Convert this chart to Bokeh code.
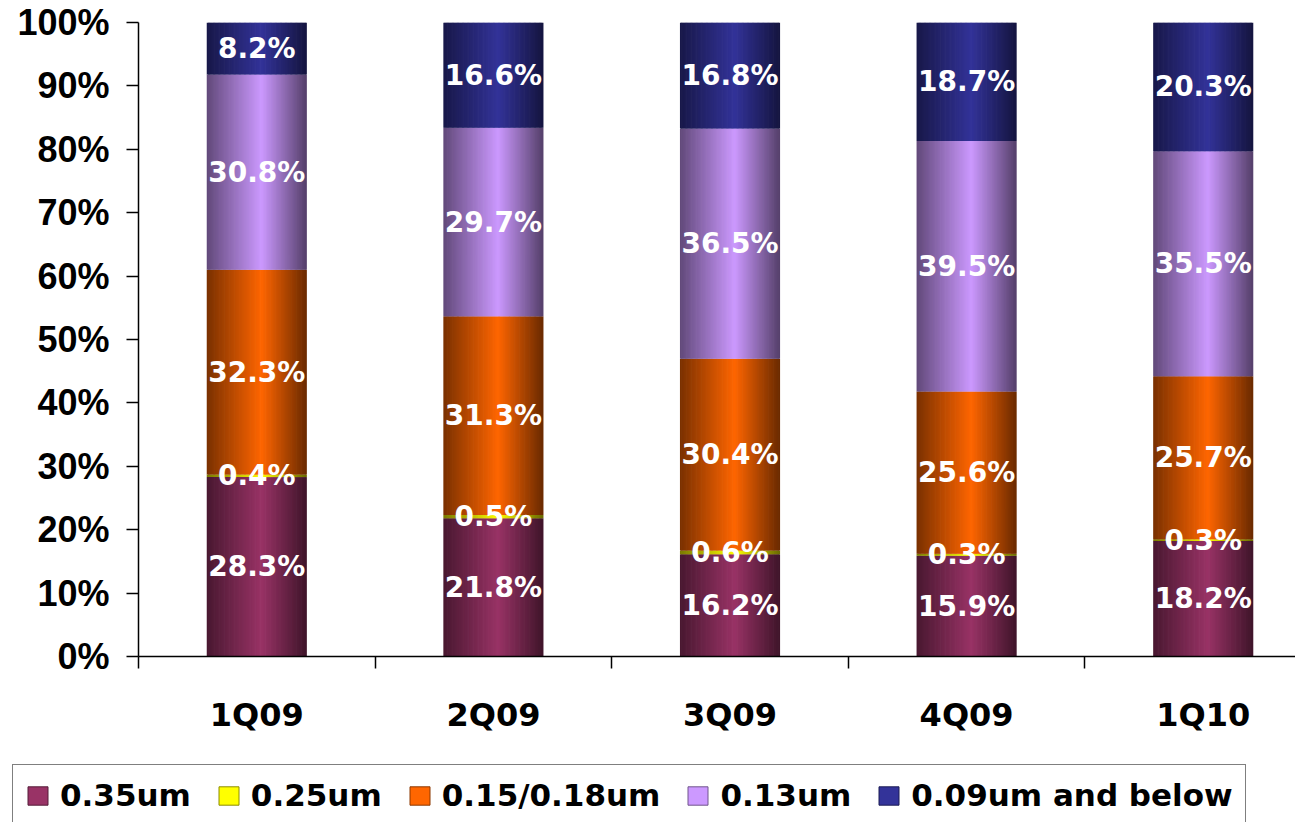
import numpy as np
from bokeh.plotting import figure
from bokeh.layouts import column
from bokeh.models import ColumnDataSource, Range1d, FixedTicker, Legend, LegendItem
from bokeh.core.properties import value
from bokeh.embed import file_html
from bokeh.resources import INLINE

# ---- data ----
categories = ["1Q09", "2Q09", "3Q09", "4Q09", "1Q10"]
series_names = ["0.35um", "0.25um", "0.15/0.18um", "0.13um", "0.09um and below"]
s_035 = [28.3, 21.8, 16.2, 15.9, 18.2]
s_025 = [0.4, 0.5, 0.6, 0.3, 0.3]
s_015 = [32.3, 31.3, 30.4, 25.6, 25.7]
s_013 = [30.8, 29.7, 36.5, 39.5, 35.5]
s_009 = [8.2, 16.6, 16.8, 18.7, 20.3]
series_colors = ["#993366", "#FFFF00", "#FF6600", "#CC99FF", "#333399"]
y_ticks = [0, 10, 20, 30, 40, 50, 60, 70, 80, 90, 100]
y_tick_labels = ["0%", "10%", "20%", "30%", "40%", "50%", "60%", "70%", "80%", "90%", "100%"]

series_values = [s_035, s_025, s_015, s_013, s_009]

# ---- styling helpers ----
N_STRIPS = 80
BAR_W = 0.42
PEAK = 0.55


def shade(hex_color, f):
    h = hex_color.lstrip("#")
    r, g, b = (int(h[i:i + 2], 16) for i in (0, 2, 4))
    return "#%02x%02x%02x" % (int(min(255, r * f)), int(min(255, g * f)), int(min(255, b * f)))


def grad_factor(t):
    if t < PEAK:
        d = (PEAK - t) / PEAK
        edge = 0.48
    else:
        d = (t - PEAK) / (1 - PEAK)
        edge = 0.42
    return 1 - (1 - edge) * d


n_cat = len(categories)
arr = np.array(series_values, dtype=float)
totals = arr.sum(axis=0)
pct = arr / totals * 100.0
cum_top = np.cumsum(pct, axis=0)
cum_bot = cum_top - pct
centers = np.arange(n_cat) + 0.5

p = figure(width=1295, height=760,
           x_range=Range1d(0, n_cat - 0.11), y_range=Range1d(0, 100),
           output_backend="svg", toolbar_location=None,
           min_border_left=138, min_border_top=22, min_border_right=0, min_border_bottom=104)
p.xgrid.visible = False
p.ygrid.visible = False
p.outline_line_color = None
p.background_fill_color = "white"
p.border_fill_color = "white"

for s, name in enumerate(series_names):
    xs, ws, bots, tops, cols = [], [], [], [], []
    for i in range(n_cat):
        for k in range(N_STRIPS):
            t = (k + 0.5) / N_STRIPS
            xs.append(centers[i] - BAR_W / 2 + t * BAR_W)
            ws.append(BAR_W / N_STRIPS * 1.6)
            bots.append(cum_bot[s, i])
            tops.append(cum_top[s, i])
            cols.append(shade(series_colors[s], grad_factor(t)))
    src = ColumnDataSource(dict(x=xs, w=ws, bottom=bots, top=tops, color=cols))
    p.vbar(x="x", width="w", bottom="bottom", top="top", source=src,
           fill_color="color", line_color=None)

# data labels
lx, ly, lt = [], [], []
for s in range(len(series_names)):
    for i in range(n_cat):
        lx.append(centers[i])
        ly.append((cum_bot[s, i] + cum_top[s, i]) / 2)
        lt.append(f"{series_values[s][i]}%")
p.text(x=lx, y=ly, text=lt, text_color="white", text_font=value("DejaVu Sans"),
       text_font_style="bold", text_font_size="28px", text_align="center",
       text_baseline="middle")

# y axis
ya = p.yaxis[0]
ya.ticker = FixedTicker(ticks=y_ticks)
ya.major_label_overrides = {t: l for t, l in zip(y_ticks, y_tick_labels)}
ya.major_label_text_font = "Liberation Sans"
ya.major_label_text_font_style = "bold"
ya.major_label_text_font_size = "36px"
ya.major_label_text_color = "black"
ya.major_tick_out = 12
ya.major_tick_in = 0
ya.minor_tick_out = 0
ya.minor_tick_in = 0
ya.major_label_standoff = 17
ya.axis_line_width = 1.5
ya.major_tick_line_width = 1.5
ya.axis_line_color = "black"
ya.major_tick_line_color = "black"

# x axis
xa = p.xaxis[0]
xa.ticker = FixedTicker(ticks=list(centers), minor_ticks=list(range(n_cat + 1)))
xa.major_label_overrides = {float(c): cat for c, cat in zip(centers, categories)}
xa.major_label_text_font = "DejaVu Sans"
xa.major_label_text_font_style = "bold"
xa.major_label_text_font_size = "32px"
xa.major_label_text_color = "black"
xa.major_tick_out = 0
xa.major_tick_in = 0
xa.major_tick_line_color = None
xa.minor_tick_out = 12
xa.minor_tick_in = 0
xa.minor_tick_line_color = "black"
xa.minor_tick_line_width = 1.5
xa.major_label_standoff = 27
xa.axis_line_width = 1.5
xa.axis_line_color = "black"

# ---- legend strip (separate figure below the chart) ----
lg = figure(width=1295, height=62, x_range=Range1d(0, 1), y_range=Range1d(0, 1),
            output_backend="svg", toolbar_location=None,
            x_axis_location=None, y_axis_location=None,
            min_border_left=0, min_border_right=0, min_border_top=0, min_border_bottom=0)
lg.frame_align = False
lg.xgrid.visible = False
lg.ygrid.visible = False
lg.outline_line_color = None
lg.background_fill_color = "white"
lg.border_fill_color = "white"

legend_items = []
for s, name in enumerate(series_names):
    # swatch renderer; its single row lies outside the visible range
    src = ColumnDataSource(dict(x=[-10.0], top=[-10.0], color=[series_colors[s]]))
    r = lg.vbar(x="x", width=0.1, top="top", bottom=-11.0, source=src,
                fill_color="color", line_color=shade(series_colors[s], 0.55), line_width=1)
    legend_items.append(LegendItem(label=name, renderers=[r]))

legend = Legend(items=legend_items, orientation="horizontal", location=(12, -4),
                label_text_font="DejaVu Sans", label_text_font_style="bold",
                label_text_font_size="31px", label_text_color="black",
                glyph_width=25, glyph_height=23, label_standoff=10, spacing=25,
                padding=12, margin=0, border_line_color="black", border_line_width=1.5,
                background_fill_color="white", background_fill_alpha=1.0)
lg.add_layout(legend)

layout = column(p, lg, spacing=0)
open("out.html", "w").write(file_html(layout, INLINE))
